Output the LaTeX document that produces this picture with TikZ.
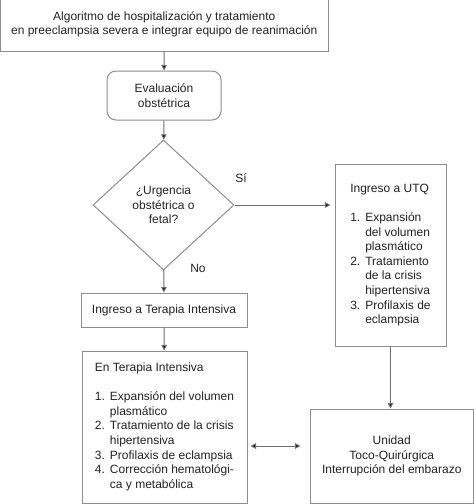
\documentclass[tikz,border=0pt]{standalone}
\usepackage{fontspec}
\setmainfont{Liberation Sans}
\usepackage{tikz}
\usetikzlibrary{positioning}
\usetikzlibrary{shapes.geometric}
\usetikzlibrary{arrows.meta}

\definecolor{boxgray}{HTML}{8E8E8E}
\definecolor{linegray}{HTML}{6E6E6E}
\definecolor{textgray}{HTML}{222222}

\tikzset{
  box/.style={draw=boxgray, line width=1pt, rectangle, inner sep=0pt, text=textgray, align=center},
  roundbox/.style={box, rounded corners=9pt},
  decision/.style={draw=boxgray, line width=1pt, diamond, inner sep=0pt, text=textgray, align=center},
  flow/.style={draw=linegray, line width=1pt, -{Triangle[length=5.5pt,width=5.5pt,fill=black]}},
  answer/.style={text=textgray}
}

\begin{document}
\begin{tikzpicture}[x=1pt, y=-1pt, font=\fontsize{12}{14.6}\selectfont]
    \useasboundingbox (0,0) rectangle (474,504);
    \node[box, minimum width=327.5pt, minimum height=53pt] (algo) at (164.25,24.5)
      {Algoritmo de hospitalización y tratamiento\\en preeclampsia severa e integrar equipo de reanimación};
    \node[roundbox, minimum width=114pt, minimum height=49pt] (eval) at (164,95.5) {Evaluación\\obstétrica};
    \node[decision, minimum width=141pt, minimum height=130pt] (urg) at (163.5,205) {¿Urgencia\\obstétrica o\\fetal?};
    \node[box, minimum width=166pt, minimum height=34pt] (ingti) at (164,310) {Ingreso a Terapia Intensiva};
    \node[box, minimum width=165pt, minimum height=152pt] (enti) at (164.5,427)
      {\begin{tabular}{@{}l@{\hspace{5pt}}l@{}}
        \multicolumn{2}{@{}l@{}}{En Terapia Intensiva}\\[14.6pt]
        1. & Expansión del volumen\\
           & plasmático\\
        2. & Tratamiento de la crisis\\
           & hipertensiva\\
        3. & Profilaxis de eclampsia\\
        4. & Corrección hematológi-\\
           & ca y metabólica
      \end{tabular}};
    \node[box, minimum width=111pt, minimum height=182pt] (utq) at (390.5,255)
      {\begin{tabular}{@{}l@{\hspace{5pt}}l@{}}
        \multicolumn{2}{@{}l@{}}{Ingreso a UTQ}\\[14.6pt]
        1. & Expansión\\
           & del volumen\\
           & plasmático\\
        2. & Tratamiento\\
           & de la crisis\\
           & hipertensiva\\
        3. & Profilaxis de\\
           & eclampsia
      \end{tabular}};
    \node[box, minimum width=163.5pt, minimum height=94pt] (unidad) at (391.75,456)
      {Unidad\\Toco-Quirúrgica\\Interrupción del embarazo};
    \node[answer] (si) at (241,178) {Sí};
    \node[answer] (no) at (198,268) {No};
    \draw[flow] (algo) -- (eval);
    \draw[flow] (eval) -- (urg);
    \draw[flow, shorten >=4pt] (urg.east) -- (urg.east -| utq.west);
    \draw[flow] (urg) -- (ingti);
    \draw[flow] (ingti) -- (enti);
    \draw[flow] (utq.south) -- (utq.south |- unidad.north);
    \coordinate (mid) at (0,446);
    \draw[flow, {Triangle[length=5.5pt,width=5.5pt,fill=black]}-{Triangle[length=5.5pt,width=5.5pt,fill=black]}, shorten <=3pt, shorten >=9pt]
      (enti.east |- mid) -- (unidad.west |- mid);
\end{tikzpicture}
\end{document}
